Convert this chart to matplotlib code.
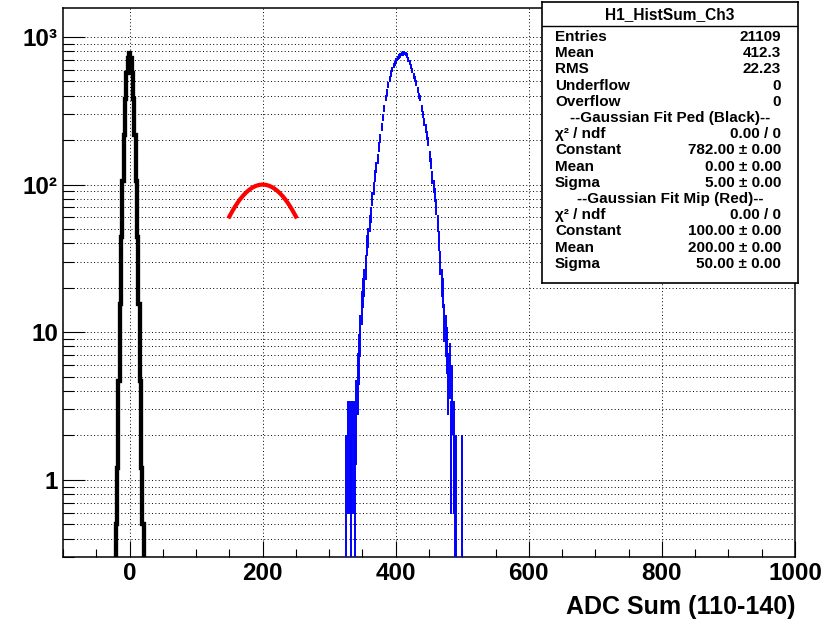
import numpy as np
import matplotlib
matplotlib.use('Agg')
import matplotlib.pyplot as plt
from matplotlib.ticker import FixedLocator, LogLocator, MultipleLocator, NullFormatter

plt.rcParams['font.family'] = ['Liberation Sans', 'DejaVu Sans']
plt.rcParams['font.weight'] = 'bold'

# blue histogram (bin width 2, first bin centre 325)
blue_first = 325
blue_width = 2
blue_counts = [1, 0, 2, 2, 1, 2, 2, 1, 3, 5, 7, 10, 15, 19, 22, 28, 39, 44, 55, 63,
               80, 95, 115, 131, 150, 180, 205, 245, 285, 330, 385, 420, 470, 518,
               560, 600, 640, 665, 690, 720, 740, 752, 765, 772, 780, 768, 750, 705,
               670, 630, 590, 545, 520, 490, 440, 400, 385, 330, 300, 265, 240, 215,
               195, 155, 140, 112, 98, 86, 71, 55, 42, 30, 22, 19, 12, 10, 8, 5, 6,
               2, 4, 2, 1, 1, 0, 0, 0, 1]

# black pedestal histogram (bin width 2, centred on 0)
black_edges = list(range(-23, 24, 2))
black_counts = [0.1, 0.5, 1.2, 4.7, 15.5, 44, 106, 217, 381, 568, 722, 782,
                722, 568, 381, 217, 106, 44, 15.5, 4.7, 1.2, 0.5, 0.1]

# red fit curve
red_x = [150, 155, 160, 165, 170, 175, 180, 185, 190, 195, 200,
         205, 210, 215, 220, 225, 230, 235, 240, 245, 250]
red_y = [60.7, 66.7, 72.6, 78.3, 83.5, 88.2, 92.3, 95.6, 98.0, 99.5, 100.0,
         99.5, 98.0, 95.6, 92.3, 88.2, 83.5, 78.3, 72.6, 66.7, 60.7]

stats_title = "H1_HistSum_Ch3"
stats_rows = [
    ("Entries", "21109"),
    ("Mean", "412.3"),
    ("RMS", "22.23"),
    ("Underflow", "0"),
    ("Overflow", "0"),
    ("--Gaussian Fit Ped (Black)--", None),
    ("χ² / ndf", "0.00 / 0"),
    ("Constant", "782.00 ± 0.00"),
    ("Mean", "0.00 ± 0.00"),
    ("Sigma", "5.00 ± 0.00"),
    ("--Gaussian Fit Mip (Red)--", None),
    ("χ² / ndf", "0.00 / 0"),
    ("Constant", "100.00 ± 0.00"),
    ("Mean", "200.00 ± 0.00"),
    ("Sigma", "50.00 ± 0.00"),
]

W, H = 823, 625
fig = plt.figure(figsize=(W / 100, H / 100), dpi=100)
ax = fig.add_axes([63 / W, 1 - 557 / H, 732 / W, 549 / H])

ax.set_yscale('log')
ax.set_xlim(-100, 1000)
ax.set_ylim(0.3, 1570)

# grid
dot = (0, (1, 2.5))
ax.set_axisbelow(True)
ax.grid(True, which='both', axis='y', color='black', lw=0.7, linestyle=dot)
ax.grid(True, which='major', axis='x', color='black', lw=0.7, linestyle=dot)

# blue histogram drawn with error bars
counts = np.array(blue_counts, dtype=float)
centres = blue_first + blue_width * np.arange(len(counts))
keep = counts > 0
c = centres[keep]
n = counts[keep]
err = np.sqrt(n)
lower = np.minimum(err, n - 1e-3)
ax.errorbar(c, n, xerr=blue_width / 2, yerr=[lower, err], fmt='none',
            ecolor='blue', elinewidth=1.4, capsize=0, zorder=3)

# black pedestal
ax.stairs(black_counts, black_edges, baseline=1e-3, color='black', lw=3.1, zorder=4)

# red fit
ax.plot(red_x, red_y, color='red', lw=3.0, zorder=5)

# ticks
ax.xaxis.set_major_locator(MultipleLocator(200))
ax.xaxis.set_minor_locator(MultipleLocator(50))
ax.yaxis.set_major_locator(FixedLocator([1, 10, 100, 1000]))
ax.yaxis.set_minor_locator(LogLocator(base=10, subs=range(2, 10)))
ax.yaxis.set_minor_formatter(NullFormatter())
ax.set_yticklabels(['1', '10', '10²', '10³'])
ax.tick_params(axis='both', which='both', direction='in', top=False, right=False,
               width=0.8, labelsize=17.5, pad=3.6)
ax.tick_params(axis='y', which='major', length=15.8)
ax.tick_params(axis='y', which='minor', length=7.9)
ax.tick_params(axis='x', which='major', length=11.5)
ax.tick_params(axis='x', which='minor', length=5.8)
for lab in ax.get_xticklabels() + ax.get_yticklabels():
    lab.set_fontweight('bold')
for sp in ax.spines.values():
    sp.set_linewidth(1.1)

fig.text(795 / W, 1 - 607 / H, "ADC Sum (110-140)", ha='right', va='center',
         fontsize=18, fontweight='bold')

# stats box
bx0, by0, bx1, by1 = 542, 2, 798, 283
sb = fig.add_axes([bx0 / W, 1 - by1 / H, (bx1 - bx0) / W, (by1 - by0) / H])
sb.set_xlim(bx0, bx1)
sb.set_ylim(by1, by0)
sb.set_xticks([])
sb.set_yticks([])
sb.set_facecolor('white')
for sp in sb.spines.values():
    sp.set_linewidth(1.2)
sb.axhline(26, color='black', lw=1.0)
sb.text((bx0 + bx1) / 2, 15, stats_title, ha='center', va='center', fontsize=11.2,
        fontweight='bold')
for i, (label, value) in enumerate(stats_rows):
    y = 37 + 16.2 * i
    if value is None:
        sb.text((bx0 + bx1) / 2, y, label, ha='center', va='center', fontsize=11,
                fontweight='bold')
    else:
        sb.text(555, y, label, ha='left', va='center', fontsize=11, fontweight='bold')
        sb.text(781, y, value, ha='right', va='center', fontsize=11, fontweight='bold')

fig.savefig('out.png', dpi=100)
